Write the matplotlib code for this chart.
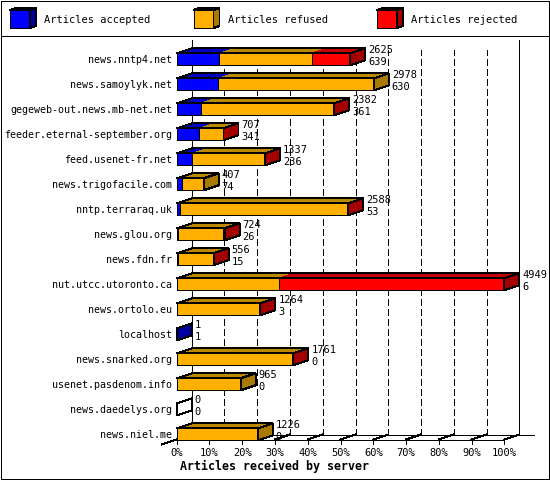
import numpy as np
import matplotlib
matplotlib.use('Agg')
import matplotlib.pyplot as plt
from matplotlib.patches import Polygon, Rectangle

servers = ['news.nntp4.net', 'news.samoylyk.net', 'gegeweb-out.news.mb-net.net',
           'feeder.eternal-september.org', 'feed.usenet-fr.net', 'news.trigofacile.com',
           'nntp.terraraq.uk', 'news.glou.org', 'news.fdn.fr', 'nut.utcc.utoronto.ca',
           'news.ortolo.eu', 'localhost', 'news.snarked.org', 'usenet.pasdenom.info',
           'news.daedelys.org', 'news.niel.me']
accepted = [639, 630, 361, 341, 236, 74, 53, 26, 15, 6, 3, 1, 0, 0, 0, 0]
refused = [1400, 2348, 1993, 354, 1076, 333, 2523, 680, 527, 1537, 1243, 0, 1751, 965, 0, 1226]
rejected = [586, 0, 28, 12, 25, 0, 12, 18, 14, 3406, 18, 0, 10, 0, 0, 0]
series_names = ['Articles accepted', 'Articles refused', 'Articles rejected']
pct_ticks = list(range(0, 101, 10))

face_colors = ['#0000ff', '#ffb000', '#ff0000']
top_colors = ['#0000c4', '#bc8800', '#c40000']
side_colors = ['#0000a0', '#a87a00', '#a40000']

plt.rcParams['font.family'] = ['DejaVu Sans Mono']
plt.rcParams['font.size'] = 7.5
plt.rcParams['patch.antialiased'] = False
plt.rcParams['lines.antialiased'] = False

W, H = 550, 480
LW = 0.72  # one pixel

# front plane of the plot, in pixels
X0, X1 = 176.7, 504.3
Y0, Y1 = 45, 439.5
ROW0, ROW = 59.3, 25
DX, DY = 15, 5  # depth of the 3d effect

fig = plt.figure(figsize=(W / 100, H / 100), dpi=100)
bg = fig.add_axes([0, 0, 1, 1])
bg.set_xlim(0, W)
bg.set_ylim(H, 0)
bg.axis('off')

ax = fig.add_axes([X0 / W, 1 - Y1 / H, (X1 - X0) / W, (Y1 - Y0) / H])
totals = np.array(accepted) + np.array(refused) + np.array(rejected)
xmax = totals.max()
ax.set_xlim(0, xmax)
ax.set_ylim((Y1 - ROW0) / ROW, (Y0 - ROW0) / ROW)
ax.axis('off')

ux = xmax / (X1 - X0)  # data per pixel
uy = 1 / ROW
ddx, ddy = DX * ux, -DY * uy
ybot, ytop = ax.get_ylim()


def line(xs, ys, z=1, **kw):
    ax.plot(xs, ys, color='black', lw=LW, clip_on=False, zorder=z, **kw)


def poly(pts, fc, ec='black', z=3):
    ax.add_patch(Polygon(pts, closed=True, facecolor=fc, edgecolor=ec, lw=LW,
                         clip_on=False, zorder=z))


# back wall and grid
line([ddx, ddx], [ybot + ddy, ytop + ddy])
line([xmax + ddx] * 2, [ybot + ddy, ytop + ddy])
for p in pct_ticks[1:-1]:
    x = p / 100 * xmax + ddx
    line([x, x], [ybot + ddy, ytop + ddy + 10 * uy], ls=(0, (6, 4)))

# floor
line([ddx, xmax + 2 * ddx], [ybot + ddy] * 2)
line([0, xmax], [ybot, ybot])
line([-ddx, ddx], [ybot - ddy, ybot + ddy])
line([xmax, xmax + ddx], [ybot, ybot + ddy])
for p in pct_ticks:
    x = p / 100 * xmax
    line([x, x], [ybot, ybot + 4.5 * uy])
    line([x, x + ddx], [ybot, ybot + ddy])
    ax.text(x, ybot + 13.2 * uy, f'{p}%', ha='center', va='center', clip_on=False)

# bars
for i, name in enumerate(servers):
    vals = [accepted[i], refused[i], rejected[i]]
    yt, yb = i - 6 * uy, i + 6 * uy
    left = 0
    last = None
    for s, v in enumerate(vals):
        if v <= 0:
            continue
        right = left + v
        ax.add_patch(Rectangle((left, yt), v, yb - yt, facecolor=face_colors[s],
                               edgecolor='black', lw=LW, clip_on=False, zorder=3))
        poly([(left, yt), (right, yt), (right + ddx, yt + ddy), (left + ddx, yt + ddy)],
             top_colors[s], ec='none')
        left = right
        last = s
    poly([(0, yt), (left, yt), (left + ddx, yt + ddy), (ddx, yt + ddy)], 'none', z=4)
    side = side_colors[last] if last is not None else 'white'
    poly([(left, yt), (left + ddx, yt + ddy), (left + ddx, yb + ddy), (left, yb)], side, z=4)

    tx = left + ddx + 3 * ux
    ax.text(tx, i - 9.3 * uy, str(totals[i]), ha='left', va='center', clip_on=False, zorder=5)
    ax.text(tx, i + 2.3 * uy, str(accepted[i]), ha='left', va='center', clip_on=False, zorder=5)
    ax.text(-4.7 * ux, i + 0.7 * uy, name, ha='right', va='center', clip_on=False,
            fontsize=7.2)

bg.text(180, 466.7, 'Articles received by server', ha='left', va='center',
        fontsize=8.4, fontweight='bold')

# legend
for k, label in enumerate(series_names):
    x = 10 + 183.5 * k
    bg.add_patch(Rectangle((x, 10), 20, 18, facecolor=face_colors[k], edgecolor='black', lw=LW))
    bg.add_patch(Polygon([(x, 10), (x + 20, 10), (x + 26, 8), (x + 6, 8)],
                         facecolor=top_colors[k], edgecolor='black', lw=LW))
    bg.add_patch(Polygon([(x + 20, 10), (x + 26, 8), (x + 26, 26), (x + 20, 28)],
                         facecolor=side_colors[k], edgecolor='black', lw=LW))
    bg.text(x + 34.3, 20, label, ha='left', va='center')

# frame
bg.add_patch(Rectangle((0.5, 0.5), 548, 478, fill=False, edgecolor='black', lw=LW))
bg.plot([0.5, 548.5], [35.5, 35.5], color='black', lw=LW)

fig.savefig('out.png', dpi=100)
